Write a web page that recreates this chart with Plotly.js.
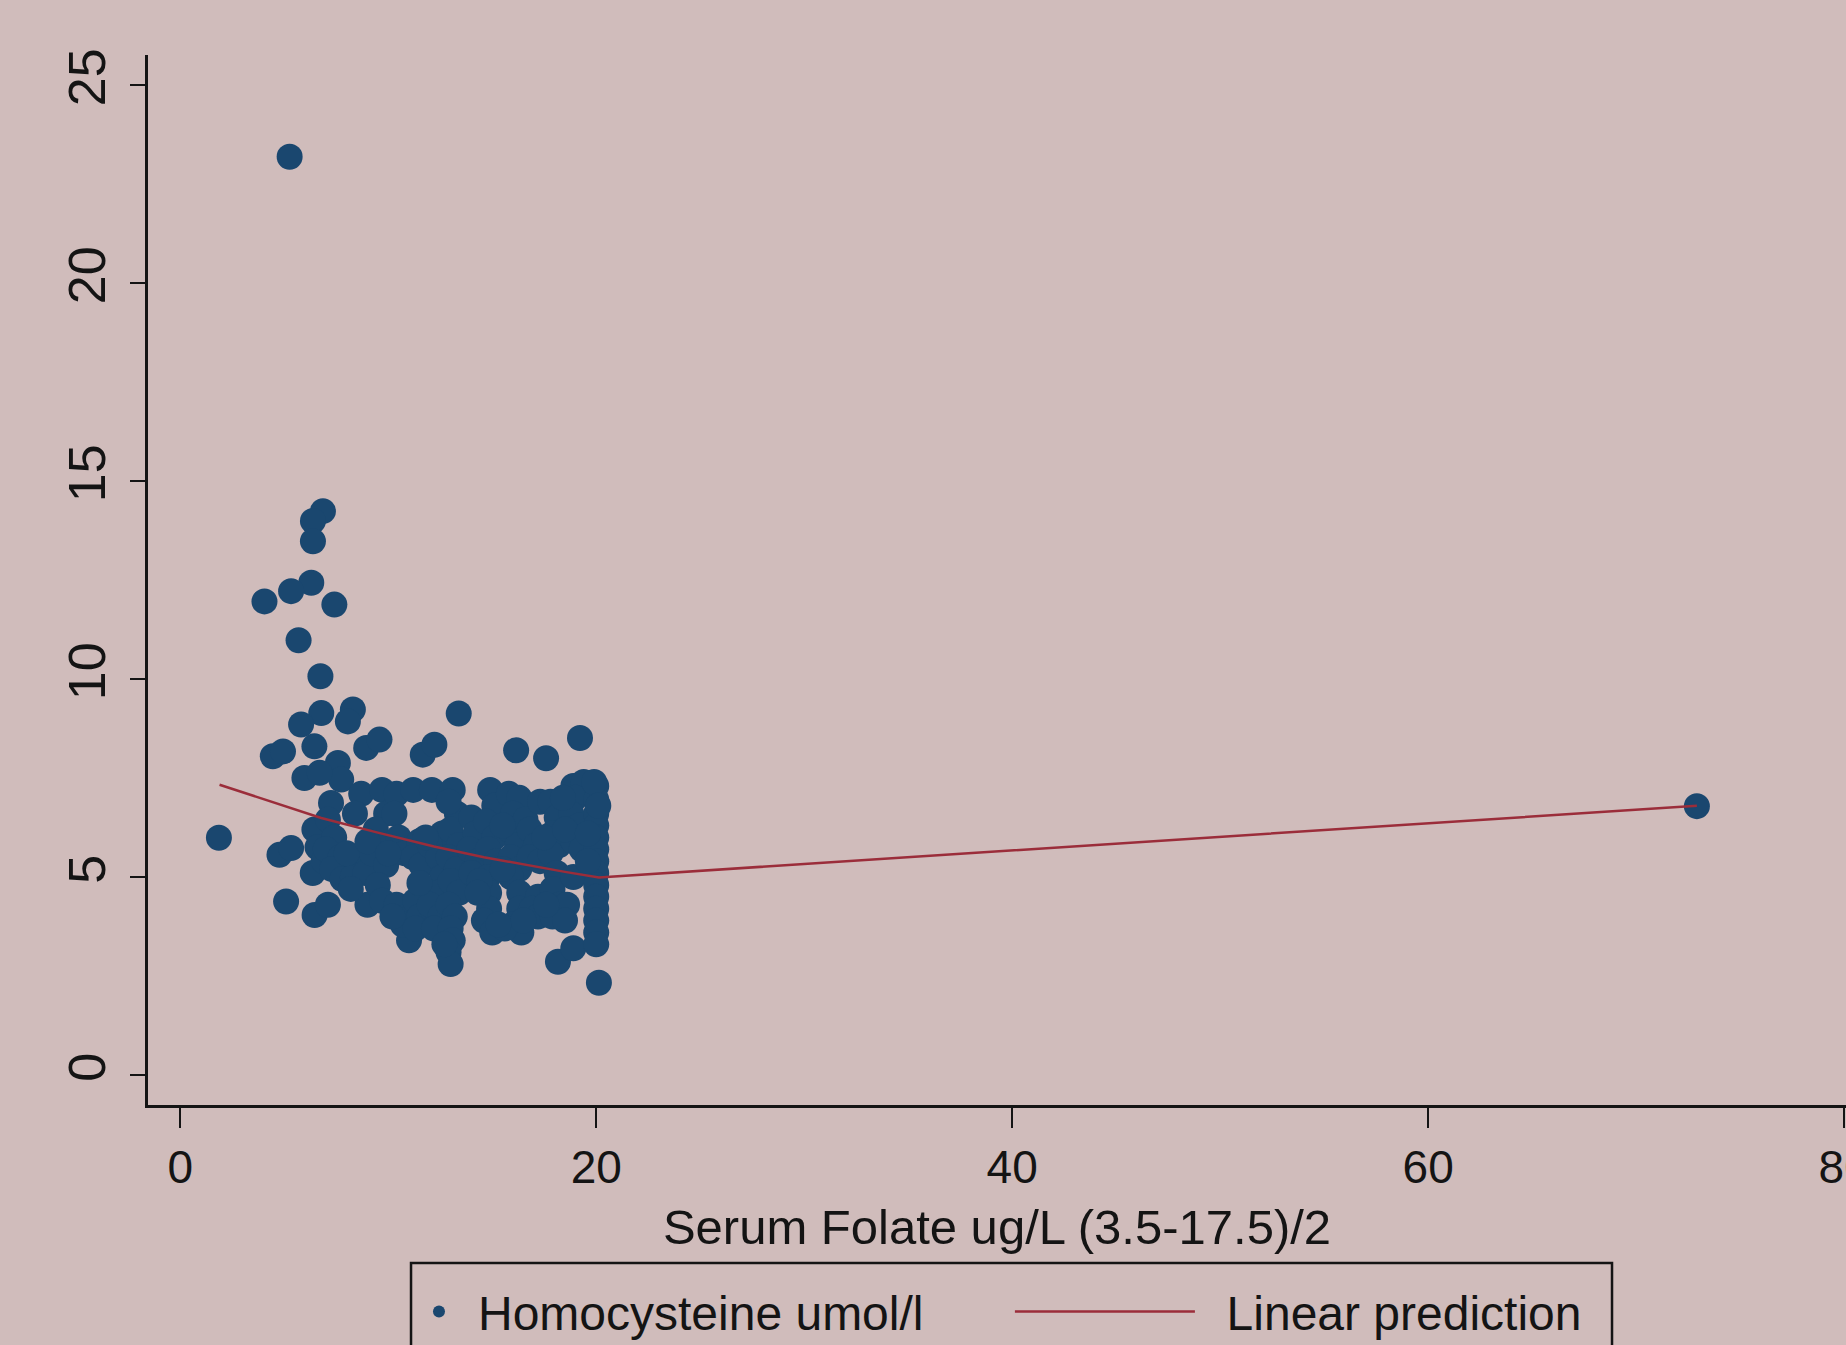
<!DOCTYPE html>
<html>
<head>
<meta charset="utf-8">
<script src="https://cdn.plot.ly/plotly-3.0.1.min.js"></script>
<style>html,body{margin:0;padding:0;background:#d0bcbb;}#chart{width:1846px;height:1345px;}</style>
</head>
<body>
<div id="chart"></div>
<script>
// Serum folate (ug/L) per subject
const folate = [
  5.26, 1.86, 72.92,
  6.86, 6.38, 6.38, 6.30, 5.33, 4.05, 7.41, 5.69, 6.74, 6.78, 8.30, 8.06, 13.39, 5.81,
  4.45, 4.94, 6.45, 8.94, 9.58, 11.66, 12.22, 16.15, 17.59, 19.22, 7.58, 7.74, 5.97, 6.70,
  4.77, 5.33, 5.09, 6.46, 7.10, 6.37,
  18.16, 18.9, 20.13,
  6.45, 6.6, 6.9,
  7.25, 7.1, 7.4, 7.0, 7.7, 7.3, 7.8,
  8.7, 8.4, 8.5, 8.3, 8.9, 9.0,
  9.7, 9.9, 9.4, 9.7, 9.2, 9.9, 9.5, 9.7,
  10.4, 10.3, 10.5, 10.8, 10.4, 10.9, 11.0, 10.7,
  11.2, 11.5, 11.2, 11.6, 11.3, 11.5, 11.3,
  12.1, 12.6, 12.0, 12.4, 12.6, 12.4, 12.0, 12.5, 12.2,
  13.1, 13.3, 13.0, 13.4, 12.9, 13.3, 13.0, 13.4, 12.9, 13.2, 13.0, 13.1, 12.9, 13.0,
  14.0, 14.2, 13.9, 14.3, 14.0,
  14.9, 15.1, 14.7, 15.1, 14.8, 15.2, 14.8, 14.85, 14.85, 14.6, 15.0,
  15.8, 16.3, 16.0, 15.8, 16.2, 15.9, 16.3, 15.9, 16.3, 16.3, 16.0, 16.4, 15.6,
  16.6, 17.3, 16.8, 17.1, 16.8, 17.3, 17.2, 16.9, 17.2,
  17.8, 18.1, 17.9, 18.2, 17.8, 18.1, 17.9, 18.2, 17.9,
  18.9, 19.4, 19.0, 18.8, 19.2, 18.9, 19.3, 18.9, 18.6, 18.5,
  20.0, 20.0, 20.0, 20.0, 20.0, 20.0, 20.0, 20.0, 20.0, 20.0, 20.0, 20.0, 20.0, 20.0, 19.9, 20.1,
  8.0, 9.0, 11.8, 12.9, 14.4, 15.5, 15.5, 16.5, 17.6, 17.5, 18.5, 18.4, 10.0, 12.7, 19.6, 19.6, 15.3,
  11.5, 8.2, 14.3, 10.2
];
// Homocysteine (umol/l) per subject
const homocysteine = [
  23.19, 5.99, 6.79,
  14.24, 13.99, 13.48, 12.43, 12.22, 11.96, 11.88, 10.98, 10.07, 9.14, 9.23, 8.93, 9.13, 8.85,
  8.05, 8.17, 8.30, 8.26, 8.47, 8.09, 8.34, 8.20, 8.00, 8.51, 7.88, 7.46, 7.50, 7.63,
  5.56, 5.73, 4.38, 4.04, 4.30, 5.10,
  2.86, 3.20, 2.33,
  6.2, 5.75, 5.4,
  6.87, 6.45, 6.0, 5.7, 5.5, 5.2, 4.95,
  7.1, 6.6, 5.4, 5.0, 5.1, 4.3,
  7.2, 6.6, 6.2, 5.8, 5.6, 5.3, 4.8, 4.4,
  7.1, 6.6, 6.0, 5.6, 4.3, 4.0, 3.4, 3.8,
  7.2, 5.9, 5.5, 5.3, 4.4, 4.0, 3.7,
  7.2, 6.1, 5.8, 5.5, 5.0, 4.6, 4.3, 4.0, 3.7,
  7.2, 6.6, 6.2, 5.8, 5.5, 5.2, 4.9, 4.6, 4.3, 4.0, 3.7, 3.4, 3.1, 2.8,
  6.5, 6.1, 5.7, 5.4, 5.1,
  7.2, 6.8, 6.4, 6.0, 5.7, 5.4, 5.0, 4.6, 4.2, 3.9, 3.6,
  7.1, 7.0, 6.6, 6.2, 5.8, 5.5, 5.2, 5.0, 4.6, 4.2, 3.8, 3.6, 3.7,
  6.45, 6.9, 6.2, 5.8, 5.5, 5.4, 4.5, 4.2, 4.0,
  6.9, 6.5, 6.1, 5.8, 5.6, 5.1, 4.7, 4.3, 4.0,
  7.3, 7.4, 7.0, 6.6, 6.3, 5.9, 5.7, 5.0, 4.3, 3.9,
  7.3, 6.95, 6.6, 6.3, 6.0, 5.7, 5.4, 5.1, 4.8, 4.5, 4.2, 3.9, 3.6, 3.3, 7.4, 6.8,
  5.6, 5.9, 6.0, 6.9, 4.9, 5.2, 6.3, 3.9, 4.3, 6.0, 6.2, 7.0, 5.6, 3.3, 6.1, 5.4, 3.8,
  4.85, 4.7, 4.6, 4.0
];
// Linear prediction, sorted by folate
const predX = [1.89, 4.5, 6.78, 9.5, 12.2, 14.6, 17.0, 18.5, 20.13, 72.92];
const predY = [7.33, 6.88, 6.49, 6.12, 5.77, 5.50, 5.27, 5.13, 4.99, 6.80];

const xTicks = [0, 20, 40, 60, 80];
const yTicks = [0, 5, 10, 15, 20, 25];
const xTitle = 'Serum Folate ug/L (3.5-17.5)/2';
const scatterName = 'Homocysteine umol/l';
const lineName = 'Linear prediction';

const BG = '#d0bcbb';
const INK = '#141414';
const FONT = 'Arial, "Liberation Sans", sans-serif';

const traces = [
  {
    type: 'scatter', mode: 'markers', x: folate, y: homocysteine, name: scatterName,
    marker: {color: '#1a476f', size: 26, line: {width: 0}},
    legend: 'legend'
  },
  {
    type: 'scatter', mode: 'lines', x: predX, y: predY, name: '\u00a0\u00a0' + lineName,
    line: {color: '#9b2d3a', width: 2.5},
    legend: 'legend2'
  }
];

const layout = {
  width: 1846, height: 1345,
  margin: {l: 148, r: 0, t: 55, b: 240, pad: 0, autoexpand: false},
  paper_bgcolor: BG, plot_bgcolor: BG,
  font: {family: FONT, color: INK, size: 46},
  showlegend: true,
  xaxis: {
    range: [-1.55, 80.09], tickmode: 'array', tickvals: xTicks, ticktext: xTicks.map(String),
    ticks: 'outside', ticklen: 20, tickwidth: 2.5, tickcolor: INK,
    showline: true, linecolor: INK, linewidth: 3, showgrid: false, zeroline: false,
    tickfont: {size: 46, color: INK}, ticklabelstandoff: 0, ticklabeloverflow: 'allow', automargin: false,
    title: {text: xTitle, font: {size: 49, color: INK}, standoff: 18}
  },
  yaxis: {
    range: [-0.758, 25.76], tickmode: 'array', tickvals: yTicks, ticktext: yTicks.map(String),
    ticks: 'outside', ticklen: 15, tickwidth: 2.5, tickcolor: INK, tickangle: -90,
    showline: true, linecolor: INK, linewidth: 3, showgrid: false, zeroline: false,
    tickfont: {size: 52, color: INK}, ticklabelstandoff: 4, automargin: false
  },
  legend: {
    orientation: 'h', x: 0.1484, xanchor: 'left', y: -0.197, yanchor: 'middle',
    bgcolor: 'rgba(0,0,0,0)', borderwidth: 0, itemwidth: 68, itemsizing: 'constant',
    font: {size: 48, color: INK}
  },
  legend2: {
    orientation: 'h', x: 0.5076, xanchor: 'left', y: -0.197, yanchor: 'middle',
    bgcolor: 'rgba(0,0,0,0)', borderwidth: 0, itemwidth: 180,
    font: {size: 48, color: INK}
  },
  shapes: [
    {type: 'rect', xref: 'paper', yref: 'paper', x0: 0.1549, x1: 0.8622, y0: -0.1505, y1: -0.32,
     line: {color: INK, width: 2.5}, fillcolor: 'rgba(0,0,0,0)', layer: 'above'}
  ]
};

Plotly.newPlot('chart', traces, layout, {displayModeBar: false, staticPlot: true});
</script>
</body>
</html>
